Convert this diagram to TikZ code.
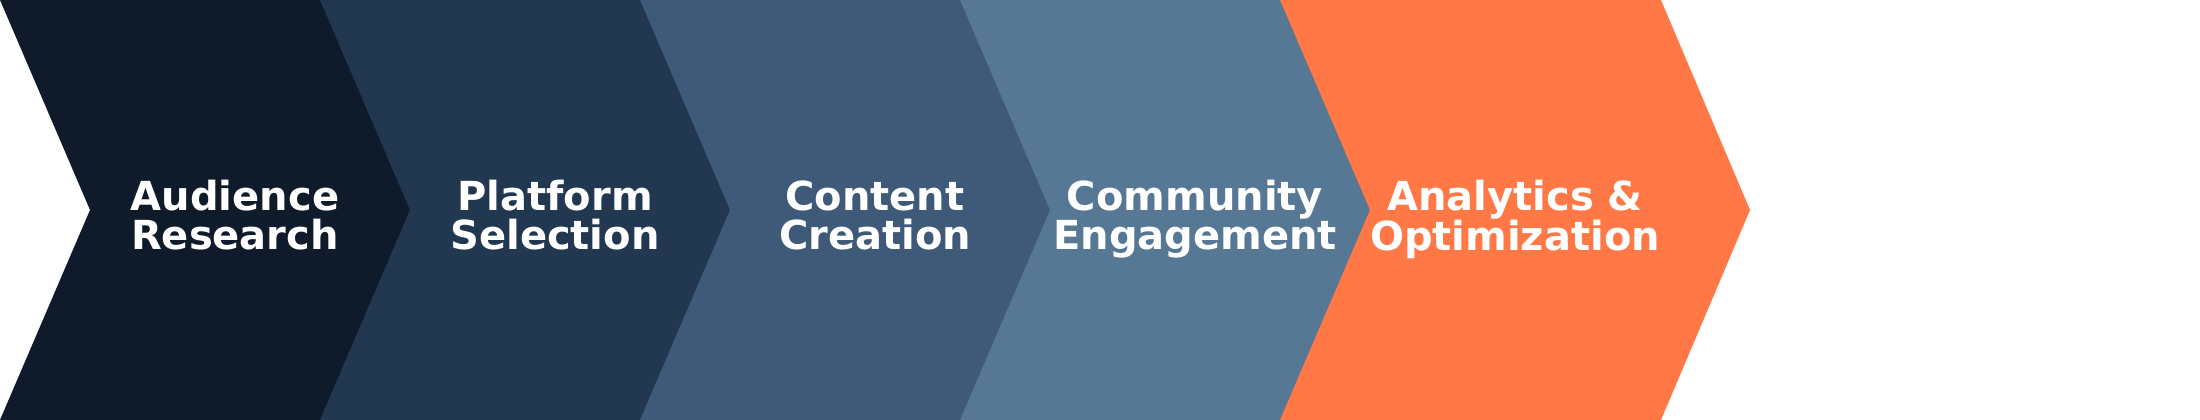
\documentclass[tikz,border=0pt]{standalone}
\usepackage{fontspec}
\setmainfont{DejaVu Sans}
\definecolor{stepone}{HTML}{0F1B2B}
\definecolor{steptwo}{HTML}{223750}
\definecolor{stepthree}{HTML}{3E5A78}
\definecolor{stepfour}{HTML}{567894}
\definecolor{stepfive}{HTML}{FF7845}

\begin{document}
\begin{tikzpicture}[x=1pt, y=1pt,
    lbl/.style={text=white, font=\fontsize{40}{39}\selectfont\bfseries, align=center, inner sep=0,
      execute at begin node={\rule{0pt}{30pt}}, execute at end node={\rule[-8pt]{0pt}{8pt}}}
  ]
  \useasboundingbox (0,0) rectangle (2200,420);
  \foreach \x/\c in {0/stepone, 320/steptwo, 640/stepthree, 960/stepfour}
    \fill[\c] (\x,420) -- (\x+321,420) -- (\x+411,210) -- (\x+321,0) -- (\x,0) -- (\x+90,210) -- cycle;
  \fill[stepfive] (1280,420) -- (1661,420) -- (1750,210) -- (1661,0) -- (1280,0) -- (1370,210) -- cycle;
  \node[lbl] (research) at (235,201) {Audience\\Research};
  \node[lbl] (platform) at (555,201) {Platform\\Selection};
  \node[lbl] (content) at (875,201) {Content\\Creation};
  \node[lbl] (community) at (1195,201) {Community\\Engagement};
  \node[lbl] (analytics) at (1515,201) {Analytics \&\\Optimization};
\end{tikzpicture}
\end{document}
